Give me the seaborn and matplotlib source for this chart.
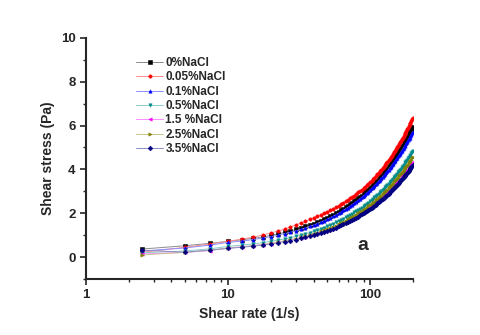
import numpy as np
import pandas as pd
import seaborn as sns
import matplotlib.pyplot as plt
from matplotlib.colors import to_rgb
from matplotlib.ticker import FixedLocator, FixedFormatter

# shear rate grid (1/s): 2.5 ... 200 in steps of 2.5
shear_rate = [2.5 * i for i in range(1, 81)]

nacl_0 = [0.37, 0.52, 0.63, 0.72, 0.79, 0.86, 0.92, 0.99, 1.06, 1.13,
          1.19, 1.26, 1.33, 1.40, 1.46, 1.53, 1.60, 1.67, 1.73, 1.80,
          1.87, 1.94, 2.00, 2.07, 2.14, 2.21, 2.27, 2.34, 2.41, 2.48,
          2.54, 2.61, 2.68, 2.75, 2.81, 2.88, 2.95, 3.02, 3.08, 3.15,
          3.22, 3.29, 3.35, 3.42, 3.49, 3.56, 3.62, 3.69, 3.76, 3.83,
          3.89, 3.96, 4.03, 4.10, 4.17, 4.24, 4.31, 4.38, 4.45, 4.52,
          4.59, 4.66, 4.73, 4.80, 4.87, 4.94, 5.01, 5.08, 5.15, 5.22,
          5.29, 5.36, 5.43, 5.50, 5.57, 5.64, 5.72, 5.79, 5.86, 5.93]
nacl_005 = [0.22, 0.45, 0.60, 0.72, 0.82, 0.91, 1.01, 1.10, 1.19, 1.28,
            1.38, 1.47, 1.55, 1.63, 1.72, 1.80, 1.87, 1.94, 2.01, 2.08,
            2.15, 2.21, 2.28, 2.35, 2.42, 2.48, 2.55, 2.61, 2.68, 2.75,
            2.81, 2.88, 2.95, 3.01, 3.08, 3.15, 3.22, 3.28, 3.35, 3.42,
            3.49, 3.56, 3.63, 3.70, 3.78, 3.85, 3.92, 3.99, 4.06, 4.13,
            4.21, 4.28, 4.35, 4.42, 4.49, 4.56, 4.63, 4.71, 4.78, 4.85,
            4.93, 5.00, 5.08, 5.15, 5.23, 5.30, 5.38, 5.45, 5.53, 5.60,
            5.68, 5.75, 5.83, 5.90, 5.98, 6.05, 6.13, 6.20, 6.28, 6.35]
nacl_01 = [0.28, 0.42, 0.55, 0.67, 0.73, 0.80, 0.87, 0.93, 1.00, 1.07,
           1.13, 1.20, 1.26, 1.33, 1.40, 1.46, 1.53, 1.60, 1.66, 1.73,
           1.80, 1.86, 1.93, 2.00, 2.06, 2.13, 2.20, 2.26, 2.33, 2.40,
           2.46, 2.53, 2.59, 2.66, 2.73, 2.79, 2.86, 2.93, 2.99, 3.06,
           3.13, 3.19, 3.26, 3.33, 3.39, 3.46, 3.53, 3.59, 3.66, 3.73,
           3.79, 3.86, 3.92, 3.99, 4.06, 4.12, 4.19, 4.26, 4.32, 4.39,
           4.46, 4.52, 4.59, 4.66, 4.72, 4.79, 4.86, 4.92, 4.99, 5.06,
           5.12, 5.19, 5.25, 5.32, 5.39, 5.45, 5.52, 5.59, 5.65, 5.72]
nacl_05 = [0.20, 0.28, 0.38, 0.49, 0.55, 0.60, 0.66, 0.72, 0.78, 0.83,
           0.89, 0.95, 1.00, 1.06, 1.12, 1.18, 1.23, 1.29, 1.35, 1.41,
           1.46, 1.52, 1.58, 1.63, 1.69, 1.75, 1.81, 1.86, 1.92, 1.98,
           2.04, 2.09, 2.15, 2.21, 2.26, 2.32, 2.38, 2.44, 2.49, 2.55,
           2.61, 2.66, 2.72, 2.78, 2.84, 2.89, 2.95, 3.01, 3.07, 3.12,
           3.18, 3.24, 3.29, 3.35, 3.41, 3.47, 3.52, 3.58, 3.64, 3.70,
           3.75, 3.81, 3.87, 3.92, 3.98, 4.04, 4.10, 4.15, 4.21, 4.27,
           4.33, 4.38, 4.44, 4.50, 4.55, 4.61, 4.67, 4.73, 4.78, 4.84]
nacl_15 = [0.14, 0.22, 0.30, 0.42, 0.47, 0.52, 0.57, 0.62, 0.68, 0.73,
           0.78, 0.83, 0.88, 0.93, 0.99, 1.04, 1.09, 1.14, 1.19, 1.25,
           1.30, 1.35, 1.40, 1.45, 1.50, 1.56, 1.61, 1.66, 1.71, 1.76,
           1.81, 1.87, 1.92, 1.97, 2.02, 2.07, 2.12, 2.18, 2.23, 2.28,
           2.33, 2.38, 2.44, 2.49, 2.54, 2.59, 2.64, 2.69, 2.75, 2.80,
           2.85, 2.90, 2.95, 3.00, 3.06, 3.11, 3.16, 3.21, 3.26, 3.32,
           3.37, 3.42, 3.47, 3.52, 3.57, 3.63, 3.68, 3.73, 3.78, 3.83,
           3.88, 3.94, 3.99, 4.04, 4.09, 4.14, 4.19, 4.25, 4.30, 4.35]
nacl_25 = [0.10, 0.22, 0.32, 0.41, 0.46, 0.52, 0.57, 0.63, 0.68, 0.74,
           0.79, 0.84, 0.90, 0.95, 1.01, 1.06, 1.12, 1.17, 1.23, 1.28,
           1.33, 1.39, 1.44, 1.50, 1.55, 1.61, 1.66, 1.72, 1.77, 1.83,
           1.88, 1.93, 1.99, 2.04, 2.10, 2.15, 2.21, 2.26, 2.32, 2.37,
           2.42, 2.48, 2.53, 2.59, 2.64, 2.70, 2.75, 2.81, 2.86, 2.92,
           2.97, 3.02, 3.08, 3.13, 3.19, 3.24, 3.30, 3.35, 3.41, 3.46,
           3.51, 3.57, 3.62, 3.68, 3.73, 3.79, 3.84, 3.90, 3.95, 4.01,
           4.06, 4.11, 4.17, 4.22, 4.28, 4.33, 4.39, 4.44, 4.50, 4.55]
nacl_35 = [0.32, 0.22, 0.32, 0.40, 0.45, 0.50, 0.55, 0.60, 0.65, 0.70,
           0.75, 0.80, 0.85, 0.90, 0.95, 1.00, 1.05, 1.10, 1.15, 1.20,
           1.25, 1.30, 1.35, 1.40, 1.45, 1.50, 1.55, 1.60, 1.65, 1.70,
           1.75, 1.80, 1.85, 1.90, 1.95, 2.00, 2.05, 2.10, 2.15, 2.20,
           2.25, 2.30, 2.35, 2.40, 2.45, 2.50, 2.55, 2.60, 2.65, 2.70,
           2.75, 2.80, 2.85, 2.90, 2.95, 3.00, 3.05, 3.10, 3.15, 3.20,
           3.25, 3.30, 3.35, 3.40, 3.45, 3.50, 3.55, 3.60, 3.65, 3.70,
           3.75, 3.80, 3.85, 3.90, 3.95, 4.00, 4.05, 4.10, 4.15, 4.20]

labels = ["0%NaCl", "0.05%NaCl", "0.1%NaCl", "0.5%NaCl",
          "1.5 %NaCl", "2.5%NaCl", "3.5%NaCl"]
series = [nacl_0, nacl_005, nacl_01, nacl_05, nacl_15, nacl_25, nacl_35]
colors = ["#000000", "#FF0000", "#0000FF", "#008B8B", "#FF00FF", "#808000", "#000080"]
markers = ["s", "o", "^", "v", "<", ">", "D"]

df = pd.DataFrame({
    "rate": shear_rate * len(series),
    "stress": sum(series, []),
    "sample": np.repeat(labels, len(shear_rate)),
})

sns.set_style("ticks")
plt.rcParams["font.family"] = ["Liberation Sans", "DejaVu Sans"]
plt.rcParams["font.weight"] = "bold"

fig = plt.figure(figsize=(4.8, 3.35), dpi=100)
ax = fig.add_axes([0.179, 0.167, 0.681, 0.72])


def lighten(c, f=0.55):
    r, g, b = to_rgb(c)
    return (r + (1 - r) * f, g + (1 - g) * f, b + (1 - b) * f)


for lab, col, mk in zip(labels, colors, markers):
    sns.lineplot(data=df[df["sample"] == lab], x="rate", y="stress", ax=ax,
                 estimator=None, label=lab, color=lighten(col),
                 linewidth=0.7, marker=mk, markersize=2.4,
                 markerfacecolor=col, markeredgecolor=col, markeredgewidth=0.4)

ax.set_xscale("log")
ax.set_xlim(1, 200)
ax.set_ylim(-1, 10)
ax.yaxis.set_major_locator(FixedLocator([0, 2, 4, 6, 8, 10]))
ax.yaxis.set_minor_locator(FixedLocator([-1, 1, 3, 5, 7, 9]))
ax.xaxis.set_major_locator(FixedLocator([1, 10, 100]))
ax.xaxis.set_major_formatter(FixedFormatter(["1", "10", "100"]))
ax.xaxis.set_minor_locator(FixedLocator([2, 3, 4, 5, 6, 7, 8, 9, 20, 30, 40, 50, 60, 70, 80, 90, 200]))

sns.despine(ax=ax)
for s in ["left", "bottom"]:
    ax.spines[s].set_linewidth(1.5)
ax.tick_params(which="major", length=4, width=1.2, labelsize=9.5, direction="out")
ax.tick_params(which="minor", length=2.5, width=1.0, direction="out")
for t in ax.get_xticklabels() + ax.get_yticklabels():
    t.set_fontweight("bold")

ax.set_xlabel("Shear rate (1/s)", fontsize=10, fontweight="bold")
ax.set_ylabel("Shear stress (Pa)", fontsize=10, fontweight="bold")
ax.text(0.847, 0.14, "a", transform=ax.transAxes, fontsize=14, fontweight="bold",
        ha="center", va="center")

leg = ax.legend(loc="upper left", bbox_to_anchor=(0.135, 0.945), frameon=False,
                fontsize=8.5, handlelength=2.3, labelspacing=0.2, borderpad=0,
                handletextpad=0.2)
for t in leg.get_texts():
    t.set_fontweight("bold")

fig.savefig("out.png", dpi=100)
